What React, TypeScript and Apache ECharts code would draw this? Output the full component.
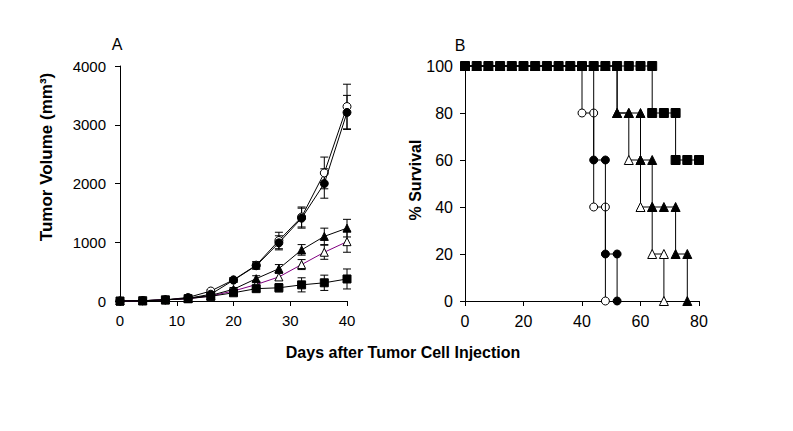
import React, { useEffect, useRef } from "react";
import * as echarts from "echarts";

const days = [0, 4, 8, 12, 16, 20, 24, 28, 32, 36, 40];
const openCircle = [0, 5, 20, 60, 170, 360, 610, 1030, 1430, 2180, 3310];
const filledCircle = [0, 5, 20, 45, 115, 355, 600, 990, 1410, 2000, 3210];
const filledTriangle = [0, 5, 20, 45, 95, 200, 380, 550, 870, 1100, 1240];
const openTriangle = [0, 5, 20, 40, 85, 170, 280, 410, 620, 830, 1010];
const filledSquare = [0, 5, 20, 40, 80, 140, 210, 225, 275, 310, 375];
const ocErr = [0, 0, 0, 10, 20, 40, 60, 140, 170, 270, 380];
const fcErr = [0, 0, 0, 10, 20, 40, 60, 120, 170, 250, 290];
const ftErr = [0, 0, 0, 10, 20, 30, 50, 70, 90, 140, 150];
const otErr = [0, 0, 0, 10, 20, 30, 50, 60, 85, 120, 180];
const sqErr = [0, 0, 0, 10, 20, 30, 50, 70, 120, 130, 170];

const survDays = [0, 4, 8, 12, 16, 20, 24, 28, 32, 36, 40, 44, 48, 52, 56, 60, 64, 68, 72, 76, 80];
const survSquare = [100, 100, 100, 100, 100, 100, 100, 100, 100, 100, 100, 100, 100, 100, 100, 100, 80, 80, 60, 60, 60];
const survOpenCircle = [100, 100, 100, 100, 100, 100, 100, 100, 100, 100, 80, 40, 0];
const survFilledCircle = [100, 100, 100, 100, 100, 100, 100, 100, 100, 100, 100, 60, 20, 0];
const survFilledTriangle = [100, 100, 100, 100, 100, 100, 100, 100, 100, 100, 100, 100, 100, 80, 80, 60, 40, 40, 20, 0];
const survOpenTriangle = [100, 100, 100, 100, 100, 100, 100, 100, 100, 100, 100, 100, 100, 80, 60, 40, 20, 0];

const FONT = "Liberation Sans, Arial, sans-serif";

function steps(vals: number[]) {
  const out: number[][] = [];
  vals.forEach((v, i) => {
    if (i > 0 && vals[i - 1] !== v) out.push([survDays[i], vals[i - 1]]);
    out.push([survDays[i], v]);
  });
  return out;
}

function axis(fontSize: number, margin: number) {
  return {
    axisLine: { show: true, onZero: false, lineStyle: { color: "#000", width: 1 } },
    axisTick: { show: true, inside: false, length: 5, lineStyle: { color: "#000" } },
    axisLabel: { color: "#000", fontSize, fontFamily: FONT, margin, formatter: (v: number) => String(v) },
    splitLine: { show: false },
  };
}

export default function App() {
  const ref = useRef<HTMLDivElement>(null);
  useEffect(() => {
    if (!ref.current) return;
    const chart = echarts.init(ref.current, undefined, { renderer: "svg" });
    const lineA = (name: string, data: number[], symbol: string, fill: string, color: string, size: number, z: number) => ({
      type: "line",
      name,
      xAxisIndex: 0,
      yAxisIndex: 0,
      data: days.map((d, i) => [d, data[i]]),
      symbol,
      symbolSize: size,
      showAllSymbol: true,
      clip: false,
      lineStyle: { color, width: 1 },
      itemStyle: { color: fill, borderColor: "#000", borderWidth: 1 },
      z,
    });
    const errA = (data: number[], err: number[], z: number) => ({
      type: "custom",
      xAxisIndex: 0,
      yAxisIndex: 0,
      data: days.map((d, i) => [d, data[i], err[i]]),
      z,
      renderItem: (params: any, api: any) => {
        const x = api.value(0);
        const y = api.value(1);
        const e = api.value(2);
        if (!e) return null;
        const top = api.coord([x, y + e]);
        const bot = api.coord([x, y - e]);
        const w = 4;
        const st = { stroke: "#000", lineWidth: 1 };
        return {
          type: "group",
          children: [
            { type: "line", shape: { x1: top[0], y1: top[1], x2: bot[0], y2: bot[1] }, style: st },
            { type: "line", shape: { x1: top[0] - w, y1: top[1], x2: top[0] + w, y2: top[1] }, style: st },
            { type: "line", shape: { x1: bot[0] - w, y1: bot[1], x2: bot[0] + w, y2: bot[1] }, style: st },
          ],
        };
      },
    });
    const lineB = (name: string, vals: number[], symbol: string, fill: string, size: number, z: number) => ({
      type: "line",
      name,
      xAxisIndex: 1,
      yAxisIndex: 1,
      data: steps(vals),
      symbol,
      symbolSize: size,
      showAllSymbol: true,
      clip: false,
      lineStyle: { color: "#000", width: 1 },
      itemStyle: { color: fill, borderColor: "#000", borderWidth: 1 },
      z,
    });
    chart.setOption({
      animation: false,
      backgroundColor: "#fff",
      grid: [
        { left: 120, top: 66, width: 227, height: 235 },
        { left: 465, top: 66, width: 234, height: 235 },
      ],
      xAxis: [
        { gridIndex: 0, type: "value", min: 0, max: 40, interval: 10, ...axis(15, 12) },
        { gridIndex: 1, type: "value", min: 0, max: 80, interval: 20, ...axis(16, 12) },
      ],
      yAxis: [
        { gridIndex: 0, type: "value", min: 0, max: 4000, interval: 1000, ...axis(15, 14) },
        { gridIndex: 1, type: "value", min: 0, max: 100, interval: 20, ...axis(16, 12) },
      ],
      graphic: [
        { type: "text", x: 117, y: 44, style: { text: "A", fontSize: 16, fontFamily: FONT, fill: "#000", align: "center", verticalAlign: "middle" } },
        { type: "text", x: 460, y: 45, style: { text: "B", fontSize: 16, fontFamily: FONT, fill: "#000", align: "center", verticalAlign: "middle" } },
        { type: "text", x: 46, y: 157, rotation: Math.PI / 2, style: { text: "Tumor Volume (mm³)", fontSize: 17, fontWeight: "bold", fontFamily: FONT, fill: "#000", align: "center", verticalAlign: "middle" } },
        { type: "text", x: 415, y: 180, rotation: Math.PI / 2, style: { text: "% Survival", fontSize: 16, fontWeight: "bold", fontFamily: FONT, fill: "#000", align: "center", verticalAlign: "middle" } },
        { type: "text", x: 403, y: 352, style: { text: "Days after Tumor Cell Injection", fontSize: 16, fontWeight: "bold", fontFamily: FONT, fill: "#000", align: "center", verticalAlign: "middle" } },
      ],
      series: [
        errA(openCircle, ocErr, 1),
        errA(filledCircle, fcErr, 1),
        errA(filledTriangle, ftErr, 1),
        errA(openTriangle, otErr, 1),
        errA(filledSquare, sqErr, 1),
        lineA("oc", openCircle, "circle", "#fff", "#000", 8, 2),
        lineA("fc", filledCircle, "circle", "#000", "#000", 8, 3),
        lineA("ot", openTriangle, "triangle", "#fff", "#800080", 8, 4),
        lineA("ft", filledTriangle, "triangle", "#000", "#000", 8, 5),
        lineA("sq", filledSquare, "rect", "#000", "#000", 8, 6),
        lineB("ot", survOpenTriangle, "triangle", "#fff", 9, 2),
        lineB("oc", survOpenCircle, "circle", "#fff", 8, 3),
        lineB("fc", survFilledCircle, "circle", "#000", 8, 4),
        lineB("ft", survFilledTriangle, "triangle", "#000", 9, 5),
        lineB("sq", survSquare, "rect", "#000", 9, 6),
      ],
    });
    return () => chart.dispose();
  }, []);
  return <div ref={ref} style={{ position: "fixed", left: 0, top: 0, width: 793, height: 431, background: "#fff" }} />;
}
